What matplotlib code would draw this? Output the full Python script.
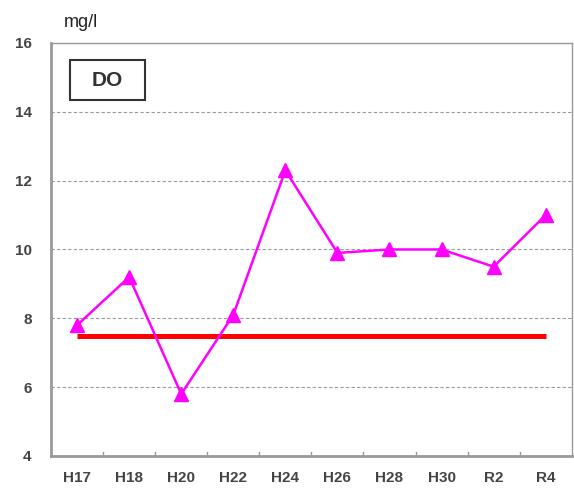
import matplotlib.pyplot as plt
from matplotlib.patches import Rectangle

# dados
anos = ['H17', 'H18', 'H20', 'H22', 'H24', 'H26', 'H28', 'H30', 'R2', 'R4']
do_valores = [7.8, 9.2, 5.8, 8.1, 12.3, 9.9, 10.0, 10.0, 9.5, 11.0]
padrao = 7.5  # valor de referencia
yticks = [4, 6, 8, 10, 12, 14, 16]

plt.rcParams['font.family'] = ['Liberation Sans', 'DejaVu Sans']

fig = plt.figure(figsize=(5.74, 4.94), dpi=100)
ax = fig.add_axes([0.089, 0.077, 0.907, 0.836])

x = list(range(len(anos)))
ax.plot([x[0], x[-1]], [padrao, padrao], color='#ff0000', lw=3.6, solid_capstyle='butt', zorder=2)
ax.plot(x, do_valores, color='#ff00ff', lw=1.8, marker='^', markersize=10, zorder=3)

ax.set_xlim(-0.5, len(anos) - 0.5)
ax.set_ylim(4, 16)
ax.set_yticks(yticks)
ax.set_yticklabels([str(v) for v in yticks], fontsize=11, fontweight='bold', color='#444444')
ax.set_xticks(x)
ax.set_xticklabels(anos, fontsize=11, fontweight='bold', color='#444444')
ax.tick_params(axis='x', length=0, pad=11)
ax.tick_params(axis='y', length=0, pad=14)

# marcas entre categorias
for xm in [i + 0.5 for i in range(len(anos) - 1)]:
    ax.plot([xm, xm], [4, 4.12], color='#999999', lw=1, zorder=1)

for yv in yticks[1:]:
    ax.axhline(yv, color='#999999', lw=0.8, ls=(0, (3, 2)), zorder=1)

for s in ax.spines.values():
    s.set_color('#999999')
    s.set_linewidth(1)
ax.spines['left'].set_linewidth(2)
ax.spines['bottom'].set_linewidth(2)

fig.text(0.112, 0.945, 'mg/l', fontsize=13, color='#222222')

# caixa com o nome do parametro
ax.add_patch(Rectangle((0.036, 0.862), 0.144, 0.097, transform=ax.transAxes,
                       fc='white', ec='#333333', lw=1.5, zorder=4))
ax.text(0.108, 0.91, 'DO', transform=ax.transAxes, fontsize=15, fontweight='bold', color='#333333',
        ha='center', va='center', zorder=5)

fig.savefig('out.png', dpi=100)
